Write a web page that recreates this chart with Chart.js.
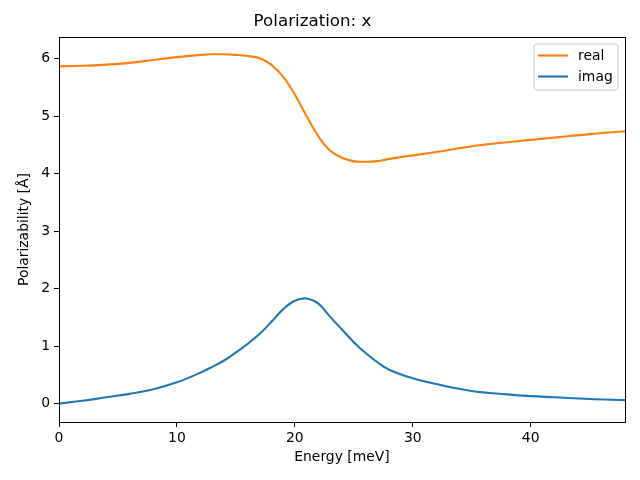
<!DOCTYPE html>
<html><head><meta charset="utf-8">
<script src="https://cdn.jsdelivr.net/npm/chart.js@4/dist/chart.umd.min.js"></script>
<style>html,body{margin:0;padding:0;background:#fff}#wrap{width:640px;height:480px}</style>
</head><body><div id="wrap"><canvas id="c" width="640" height="480"></canvas></div>
<script>
const energy = [0,2,4,6,8,10,12,13,14,15,16,17,18,19,20,21,22,23,24,25,26,27,28,30,32,35,38,40,42,45,48];
const realPart = [5.87,5.88,5.90,5.93,5.98,6.03,6.07,6.08,6.08,6.07,6.05,6.01,5.90,5.69,5.38,5.00,4.65,4.40,4.28,4.22,4.21,4.22,4.26,4.32,4.38,4.48,4.55,4.59,4.63,4.69,4.74];
const imagPart = [0.00,0.05,0.11,0.17,0.25,0.37,0.54,0.64,0.75,0.89,1.04,1.21,1.42,1.64,1.79,1.83,1.74,1.51,1.29,1.07,0.88,0.72,0.59,0.44,0.34,0.22,0.16,0.13,0.11,0.08,0.06];
const xTicks = [0,10,20,30,40];
const yTicks = [0,1,2,3,4,5,6];
const seriesNames = ['real','imag'];
const seriesColors = ['#ff7f0e','#1f77b4'];

const FONT = 'DejaVu Sans';
const toPts = arr => energy.map((e,i)=>({x:e,y:arr[i]}));

const framePlugin = {
  id:'frame',
  afterDraw(chart){
    const {ctx, chartArea:a} = chart;
    ctx.save();
    ctx.strokeStyle='#000'; ctx.lineWidth=1;
    ctx.strokeRect(Math.round(a.left)+0.5, Math.round(a.top)+0.5, Math.round(a.right-a.left), Math.round(a.bottom-a.top));
    const bx=534, by=44, bw=84, bh=46, r=3;
    ctx.beginPath();
    ctx.moveTo(bx+r,by); ctx.lineTo(bx+bw-r,by); ctx.quadraticCurveTo(bx+bw,by,bx+bw,by+r);
    ctx.lineTo(bx+bw,by+bh-r); ctx.quadraticCurveTo(bx+bw,by+bh,bx+bw-r,by+bh);
    ctx.lineTo(bx+r,by+bh); ctx.quadraticCurveTo(bx,by+bh,bx,by+bh-r);
    ctx.lineTo(bx,by+r); ctx.quadraticCurveTo(bx,by,bx+r,by);
    ctx.closePath();
    ctx.fillStyle='rgba(255,255,255,0.8)'; ctx.fill();
    ctx.strokeStyle='#cccccc'; ctx.lineWidth=1; ctx.stroke();
    const rows=[55.5,76.5];
    seriesNames.forEach((n,i)=>{
      ctx.strokeStyle=seriesColors[i]; ctx.lineWidth=2.1;
      ctx.beginPath(); ctx.moveTo(538,rows[i]); ctx.lineTo(568,rows[i]); ctx.stroke();
      ctx.fillStyle='#000'; ctx.font='13.9px "'+FONT+'"'; ctx.textAlign='left'; ctx.textBaseline='middle';
      ctx.fillText(n,578,rows[i]+1);
    });
    ctx.restore();
  }
};

new Chart(document.getElementById('c'),{
  type:'line',
  data:{datasets:[
    {label:seriesNames[0],data:toPts(realPart),borderColor:seriesColors[0],borderWidth:2.1,pointRadius:0,tension:0.4,fill:false},
    {label:seriesNames[1],data:toPts(imagPart),borderColor:seriesColors[1],borderWidth:2.1,pointRadius:0,tension:0.4,fill:false}
  ]},
  options:{
    responsive:false,animation:false,
    layout:{padding:{left:0,right:15,top:0,bottom:0}},
    plugins:{
      legend:{display:false},tooltip:{enabled:false},
      title:{display:true,text:'Polarization: x',color:'#000',font:{family:FONT,size:16.7,weight:'normal'},padding:{top:12,bottom:5}}
    },
    scales:{
      x:{type:'linear',min:0,max:48,
        afterBuildTicks:s=>{s.ticks=xTicks.map(v=>({value:v}));},
        afterFit:s=>{s.height=58;},
        grid:{display:true,drawOnChartArea:false,drawTicks:true,tickLength:5,color:'#000'},
        border:{display:true,color:'#000'},
        ticks:{color:'#000',font:{family:FONT,size:13.9},padding:3,maxRotation:0},
        title:{display:true,text:'Energy [meV]',color:'#000',font:{family:FONT,size:13.9},padding:{top:0,bottom:14}}
      },
      y:{type:'linear',min:-0.32,max:6.38,
        afterBuildTicks:s=>{s.ticks=yTicks.map(v=>({value:v}));},
        afterFit:s=>{s.width=59;},
        grid:{display:true,drawOnChartArea:false,drawTicks:true,tickLength:5,color:'#000'},
        border:{display:true,color:'#000'},
        ticks:{color:'#000',font:{family:FONT,size:13.9},padding:4},
        title:{display:true,text:'Polarizability [Å]',color:'#000',font:{family:FONT,size:13.9},padding:{top:16,bottom:0}}
      }
    }
  },
  plugins:[framePlugin]
});
</script></body></html>
